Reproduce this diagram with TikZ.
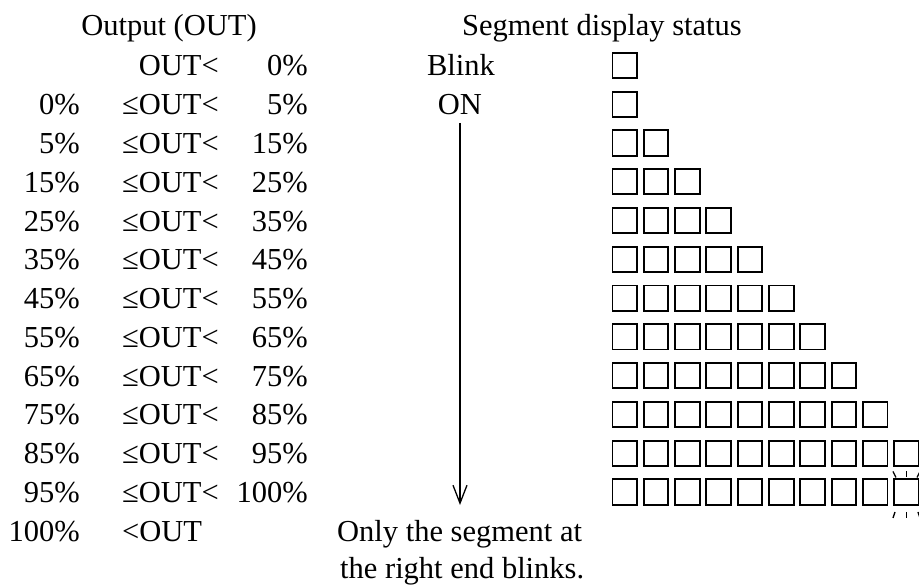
\documentclass[tikz,border=0pt]{standalone}
\usepackage{fontspec}
\setmainfont{Liberation Serif}
\usetikzlibrary{arrows.meta}
\begin{document}
\begin{tikzpicture}[x=1pt,y=-1pt,
  txt/.style={inner sep=0pt, font=\fontsize{30.5}{36}\selectfont},
  seg/.style={draw, line width=1.9pt, minimum width=24.6pt, minimum height=25.2pt, inner sep=0pt},
  ray/.style={line width=1.3pt},
  flow/.style={line width=1.3pt, -{Straight Barb[length=18pt,width=14pt]}}]
\useasboundingbox (0,0) rectangle (919,585);
% titles
\node[txt, anchor=base] (tout) at (169,36) {Output (OUT)};
\node[txt, anchor=base west] (tseg) at (462,36) {Segment display status};
% left column
\foreach \i/\v in {1/0,2/5,3/15,4/25,5/35,6/45,7/55,8/65,9/75,10/85,11/95,12/100}
  \node[txt, anchor=base east] (lo-\i) at (80,{76+38.77*\i}) {\v\%};
% middle column
\node[txt, anchor=base west] (mid-0) at (122,76) {\phantom{≤}OUT<};
\foreach \i in {1,...,11}
  \node[txt, anchor=base west] (mid-\i) at (122,{76+38.77*\i}) {≤OUT<};
\node[txt, anchor=base west] (mid-12) at (122,{76+38.77*12}) {<OUT};
% right column
\foreach \i/\v in {0/0,1/5,2/15,3/25,4/35,5/45,6/55,7/65,8/75,9/85,10/95,11/100}
  \node[txt, anchor=base east] (hi-\i) at (308,{76+38.77*\i}) {\v\%};
% status column
\node[txt, anchor=base] (blink) at (461,76) {Blink};
\node[txt, anchor=base] (on) at (460,{76+38.77}) {ON};
\coordinate (atop) at (460,123);
\coordinate (abot) at (460,505);
\draw[flow] (atop) -- (abot);
\node[txt, anchor=base west] (note1) at (337,541) {Only the segment at};
\node[txt, anchor=base west] (note2) at (340,578) {the right end blinks.};
% segments
\foreach \i in {0,...,11}{
  \pgfmathtruncatemacro\n{\i<1 ? 1 : (\i>10 ? 10 : \i)}
  \foreach \j in {1,...,\n}
    \node[seg] (s-\i-\j) at ({624.8+31.3*(\j-1)},{65.5+38.77*\i}) {};
}
% blink rays on the last segment
\draw[ray] ([shift={(-10.5,-14.5)}]s-11-10.center) -- ([shift={(-13.5,-20.5)}]s-11-10.center);
\draw[ray] ([shift={(0,-15)}]s-11-10.center) -- ([shift={(0,-21)}]s-11-10.center);
\draw[ray] ([shift={(10.5,-14.5)}]s-11-10.center) -- ([shift={(13.5,-20.5)}]s-11-10.center);
\draw[ray] ([shift={(-11.5,20)}]s-11-10.center) -- ([shift={(-13.5,26)}]s-11-10.center);
\draw[ray] ([shift={(0,20)}]s-11-10.center) -- ([shift={(0,26)}]s-11-10.center);
\draw[ray] ([shift={(11.5,20)}]s-11-10.center) -- ([shift={(13.5,26)}]s-11-10.center);
\end{tikzpicture}
\end{document}
